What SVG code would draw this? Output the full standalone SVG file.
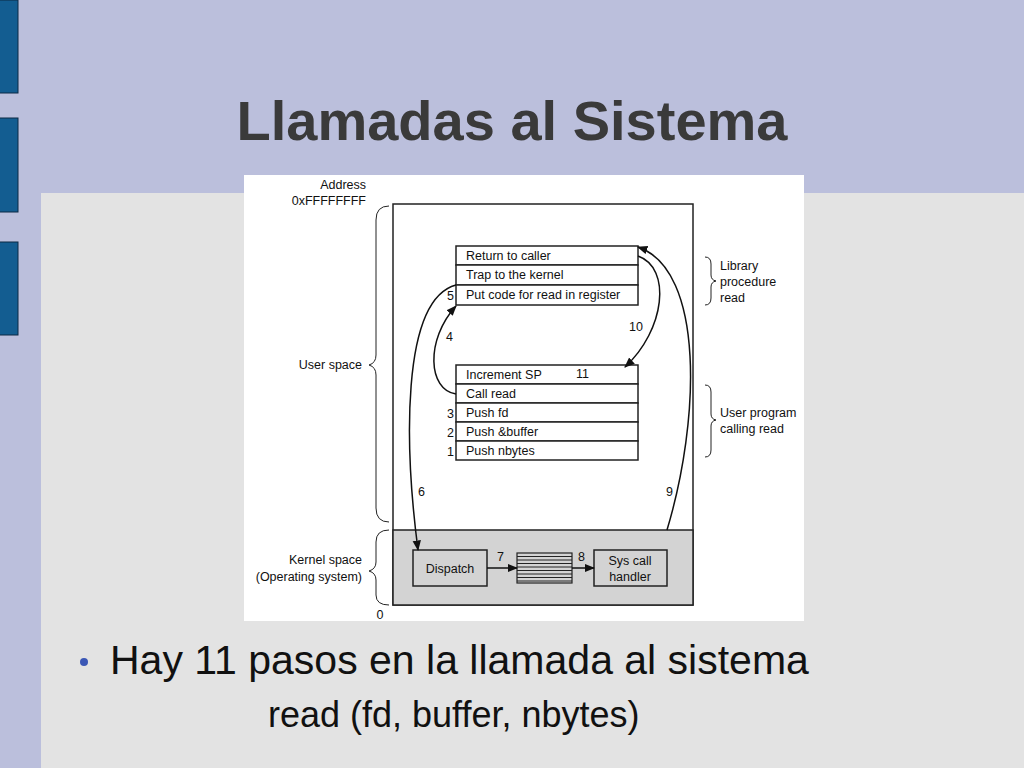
<svg xmlns="http://www.w3.org/2000/svg" width="1024" height="768" viewBox="0 0 1024 768">
<defs>
<style>
.t{font-family:"Liberation Sans",Arial,sans-serif;font-size:12.5px;fill:#111}
.b{fill:#fff;stroke:#222;stroke-width:1.5}
.c{fill:none;stroke:#111;stroke-width:1.5}
.br{fill:none;stroke:#222;stroke-width:1}
</style>
<marker id="a" viewBox="0 0 10 10" refX="9" refY="5" markerWidth="7" markerHeight="7" orient="auto"><path d="M0,1 L10,5 L0,9 Z" fill="#111"/></marker>
</defs>
<rect width="1024" height="768" fill="#bbbfdc"/>
<rect x="41" y="193" width="983" height="575" fill="#e3e3e3"/>
<g fill="#135d91" stroke="#0c2a44"><rect x="-1" y="0" width="19" height="93"/><rect x="-1" y="118" width="19" height="94"/><rect x="-1" y="242" width="19" height="93"/></g>
<text x="512" y="140" text-anchor="middle" font-family="Liberation Sans,Arial,sans-serif" font-size="56" font-weight="bold" fill="#3a3a3a">Llamadas al Sistema</text>
<rect x="244" y="175" width="560" height="446" fill="#fff"/>
<g id="frame">
<rect x="393" y="204" width="300" height="401" fill="#fff" stroke="#222" stroke-width="1.5"/>
<rect x="393" y="530" width="300" height="75" fill="#d3d3d3" stroke="#222" stroke-width="1.5"/>
</g>
<g id="labels">
<text class="t" x="366" y="189" text-anchor="end">Address</text>
<text class="t" x="366" y="205" text-anchor="end">0xFFFFFFFF</text>
<text class="t" x="362" y="369" text-anchor="end">User space</text>
<text class="t" x="362" y="564" text-anchor="end">Kernel space</text>
<text class="t" x="362" y="581" text-anchor="end">(Operating system)</text>
<text class="t" x="380" y="619" text-anchor="middle">0</text>
<text class="t" x="720" y="270">Library</text>
<text class="t" x="720" y="286">procedure</text>
<text class="t" x="720" y="302">read</text>
<text class="t" x="720" y="417">User program</text>
<text class="t" x="720" y="433">calling read</text>
<path class="br" d="M389,206 Q376,206 376,220 L376,355 Q376,363 369,365 Q376,367 376,375 L376,508 Q376,522 389,522"/>
<path class="br" d="M389,530 Q376,530 376,542 L376,562 Q376,569 369,571 Q376,573 376,580 L376,595 Q376,605 389,605"/>
<path class="br" d="M705,257 Q711,257 711,264 L711,275 Q711,280 716,281 Q711,282 711,287 L711,298 Q711,305 705,305"/>
<path class="br" d="M705,385 Q711,385 711,392 L711,414 Q711,419 716,420 Q711,421 711,426 L711,450 Q711,457 705,457"/>
</g>
<g id="library">
<rect class="b" x="456" y="246" width="182" height="19"/><text class="t" x="466" y="260">Return to caller</text>
<rect class="b" x="456" y="265" width="182" height="20"/><text class="t" x="466" y="279">Trap to the kernel</text>
<rect class="b" x="456" y="285" width="182" height="20"/><text class="t" x="466" y="299">Put code for read in register</text>
</g>
<g id="userprog">
<rect class="b" x="456" y="365" width="182" height="19"/><text class="t" x="466" y="379">Increment SP</text><text class="t" x="576" y="378">11</text>
<rect class="b" x="456" y="384" width="182" height="19"/><text class="t" x="466" y="398">Call read</text>
<rect class="b" x="456" y="403" width="182" height="19"/><text class="t" x="466" y="417">Push fd</text>
<rect class="b" x="456" y="422" width="182" height="19"/><text class="t" x="466" y="436">Push &amp;buffer</text>
<rect class="b" x="456" y="441" width="182" height="19"/><text class="t" x="466" y="455">Push nbytes</text>
</g>
<g id="kernel">
<rect x="413" y="550" width="74" height="36" fill="#d3d3d3" stroke="#222" stroke-width="1.5"/><text class="t" x="450" y="573" text-anchor="middle">Dispatch</text>
<rect x="517" y="553" width="55" height="30" fill="#d3d3d3" stroke="#222" stroke-width="1.2"/>
<path d="M517,556.5H572M517,560H572M517,563.5H572M517,567H572M517,570.5H572M517,574H572M517,577.5H572M517,581H572" stroke="#222" stroke-width="1"/>
<rect x="594" y="550" width="73" height="36" fill="#d3d3d3" stroke="#222" stroke-width="1.5"/><text class="t" x="630" y="565" text-anchor="middle">Sys call</text><text class="t" x="630" y="581" text-anchor="middle">handler</text>
</g>
<g id="connectors">
<path class="c" marker-end="url(#a)" d="M456,394 C428,390 425,340 456,306"/>
<path class="c" marker-end="url(#a)" d="M456,285 C400,300 405,450 418,550"/>
<path class="c" marker-end="url(#a)" d="M638,256 C672,268 665,330 625,367"/>
<path class="c" marker-end="url(#a)" d="M667,530 C700,420 705,270 638,247"/>
<path class="c" marker-end="url(#a)" d="M487,568 L517,568"/>
<path class="c" marker-end="url(#a)" d="M572,568 L594,568"/>
<text class="t" x="447" y="300">5</text>
<text class="t" x="446" y="341">4</text>
<text class="t" x="447" y="418">3</text>
<text class="t" x="447" y="437">2</text>
<text class="t" x="447" y="456">1</text>
<text class="t" x="629" y="331">10</text>
<text class="t" x="418" y="496">6</text>
<text class="t" x="666" y="496">9</text>
<text class="t" x="497" y="561">7</text>
<text class="t" x="578" y="561">8</text>
</g>
<circle cx="84" cy="662" r="4" fill="#3b57b5"/>
<text x="110" y="674" font-family="Liberation Sans,Arial,sans-serif" font-size="41" fill="#111">Hay 11 pasos en la llamada al sistema</text>
<text x="268" y="727" font-family="Liberation Sans,Arial,sans-serif" font-size="36" fill="#111">read (fd, buffer, nbytes)</text>
</svg>
